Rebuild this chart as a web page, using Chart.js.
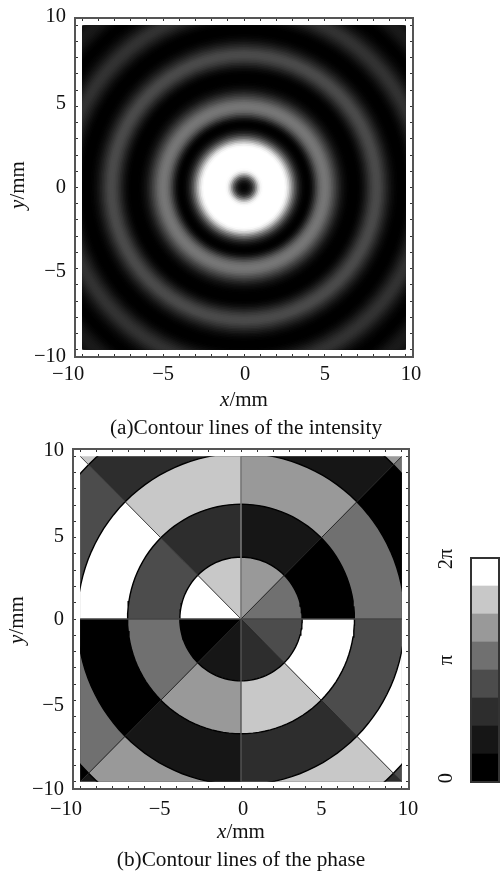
<!DOCTYPE html>
<html>
<head>
<meta charset="utf-8">
<title>Contour lines of the intensity and the phase</title>
<script src="https://cdn.jsdelivr.net/npm/chart.js@4"></script>
<style>
  html, body { margin: 0; padding: 0; background: #fff; }
  body { position: relative; width: 503px; height: 872px; overflow: hidden; }
  canvas { position: absolute; display: block; filter: blur(0.45px); }
</style>
</head>
<body>
<canvas id="intensityChart" width="503" height="440" style="left:0;top:0"></canvas>
<canvas id="phaseChart" width="420" height="432" style="left:0;top:440px"></canvas>
<canvas id="scaleChart" width="83" height="260" style="left:420px;top:540px"></canvas>
<script>
const tickValues = [-10, -9, -8, -7, -6, -5, -4, -3, -2, -1, 0, 1, 2, 3, 4, 5, 6, 7, 8, 9, 10];
const labelledTicks = [-10, -5, 0, 5, 10];
const tickLabels = ["\u221210", "\u22125", "0", "5", "10"];

// radial intensity profile: grey of each 0.1 mm band, from the centre out
const intensityBand = 0.1;
const intensityGrey = [
  5, 8, 14, 24, 40, 65, 100, 145, 190, 225,
  245, 253, 255, 255, 255, 255, 255, 255, 255, 255,
  255, 255, 255, 255, 255, 250, 235, 210, 178, 145,
  112, 85, 60, 40, 25, 14, 6, 2, 0, 1,
  5, 14, 28, 45, 64, 82, 98, 108, 115, 118,
  118, 114, 108, 98, 86, 74, 62, 50, 39, 29,
  20, 14, 9, 5, 2, 1, 0, 0, 0, 0,
  2, 5, 10, 16, 24, 33, 42, 52, 60, 67,
  72, 74, 74, 72, 66, 58, 50, 41, 33, 25,
  18, 12, 8, 4, 2, 0, 0, 0, 0, 1,
  3, 6, 10, 15, 21, 27, 33, 39, 44, 48,
  50, 50, 49, 45, 40, 34, 28, 22, 17, 12,
  8, 5, 3, 1, 0, 0, 1, 3, 6, 9,
  13, 17, 20, 23, 25, 26, 26, 25, 23, 20,
  16, 12,
];

// eight phase levels, 0 to 2 pi
const phaseGreys = ["#000000", "#161616", "#2d2d2d", "#4c4c4c", "#707070", "#999999", "#c8c8c8", "#ffffff"];
const scaleSteps = [1, 1, 1, 1, 1, 1, 1, 1];

// outer radius (mm) of each phase ring, and the level of each 45 degree sector, counter clockwise from +x
const phaseRadii = [3.8, 7.05, 10.18, 13.4, 15];
const ring1Levels = [4, 5, 6, 7, 0, 1, 2, 3];
const ring2Levels = [0, 1, 2, 3, 4, 5, 6, 7];
const ring3Levels = [4, 5, 6, 7, 0, 1, 2, 3];
const ring4Levels = [0, 1, 2, 3, 4, 5, 6, 7];
const ring5Levels = [4, 5, 6, 7, 0, 1, 2, 3];
const phaseLevels = [ring1Levels, ring2Levels, ring3Levels, ring4Levels, ring5Levels];

const spokeAngles = [0, 45, 90, 135, 180, 225, 270, 315];
const spokeColors = ["#444444", "#222222", "#777777", "#333333", "#444444", "#222222", "#555555", "#222222"];
const spokeWidths = [1.4, 0.9, 1.6, 0.9, 1.4, 0.9, 1.4, 0.9];

const SERIF = '"Liberation Serif", "Times New Roman", serif';
const FRAME_LIMIT = 10.44;

function hiddenLabelAxis(position, withTicks) {
  return {
    type: "linear",
    position: position,
    min: -FRAME_LIMIT,
    max: FRAME_LIMIT,
    border: { display: true, color: "#555555", width: 2 },
    grid: { drawOnChartArea: false, drawTicks: withTicks, tickLength: -3, tickColor: "#333333", tickWidth: 1 },
    ticks: { display: false, autoSkip: false },
    afterBuildTicks: (scale) => { scale.ticks = tickValues.map((v) => ({ value: v })); },
    afterFit: (scale) => {
      if (position === "top" || position === "bottom") scale.height = 0;
      else scale.width = 0;
    },
  };
}

function frameScales() {
  return {
    x: hiddenLabelAxis("bottom", true),
    x2: hiddenLabelAxis("top", true),
    y: hiddenLabelAxis("left", true),
    y2: hiddenLabelAxis("right", true),
  };
}

// the picture only fills -10..10, the frame sits a little further out
const clipToImage = {
  id: "clipToImage",
  beforeDatasetsDraw(chart) {
    const { x, y } = chart.scales;
    const ctx = chart.ctx;
    ctx.save();
    ctx.beginPath();
    ctx.rect(x.getPixelForValue(-10), y.getPixelForValue(10), x.getPixelForValue(10) - x.getPixelForValue(-10), y.getPixelForValue(-10) - y.getPixelForValue(10));
    ctx.clip();
  },
  afterDatasetsDraw(chart) {
    chart.ctx.restore();
  },
};

function italicTitle(ctx, italic, rest, cx, baseline) {
  ctx.textAlign = "left";
  ctx.textBaseline = "alphabetic";
  ctx.font = "italic 21px " + SERIF;
  const w1 = ctx.measureText(italic).width;
  ctx.font = "21px " + SERIF;
  const w2 = ctx.measureText(rest).width;
  const left = cx - (w1 + w2) / 2;
  ctx.font = "italic 21px " + SERIF;
  ctx.fillText(italic, left, baseline);
  ctx.font = "21px " + SERIF;
  ctx.fillText(rest, left + w1, baseline);
}

// tick labels are moved by hand in the original, so they get small nudges here
function frameText(opts) {
  return {
    id: "frameText",
    afterDraw(chart) {
      const { x, y } = chart.scales;
      const ctx = chart.ctx;
      ctx.save();
      ctx.fillStyle = "#111111";
      ctx.font = "20.5px " + SERIF;
      ctx.textBaseline = "alphabetic";
      ctx.textAlign = "center";
      labelledTicks.forEach((v, i) => {
        ctx.fillText(tickLabels[i], x.getPixelForValue(v) + opts.xNudge[i], opts.xLabelBase);
      });
      ctx.textAlign = "right";
      ctx.textBaseline = "middle";
      labelledTicks.forEach((v, i) => {
        ctx.fillText(tickLabels[i], opts.yLabelRight, y.getPixelForValue(v) + opts.yNudge[i]);
      });
      italicTitle(ctx, "x", "/mm", opts.xTitleX, opts.xTitleBase);
      ctx.save();
      ctx.translate(opts.yTitleBase, opts.yTitleY);
      ctx.rotate(-Math.PI / 2);
      italicTitle(ctx, "y", "/mm", 0, 0);
      ctx.restore();
      ctx.textAlign = "center";
      ctx.font = "21.3px " + SERIF;
      ctx.fillText(opts.caption, opts.captionX, opts.captionBase);
      ctx.restore();
    },
  };
}

function baseOptions(padding, scales) {
  return {
    responsive: false,
    animation: false,
    events: [],
    layout: { padding: padding },
    scales: scales,
    plugins: { legend: { display: false }, tooltip: { enabled: false } },
  };
}

// --- intensity: concentric discs, biggest painted first
const discOrder = intensityGrey.map((_, i) => intensityGrey.length - 1 - i);

new Chart(document.getElementById("intensityChart"), {
  type: "scatter",
  data: {
    datasets: [{
      label: "Intensity",
      data: discOrder.map(() => ({ x: 0, y: 0 })),
      pointRadius: (c) => {
        const sx = c.chart.scales.x;
        return sx.getPixelForValue((discOrder[c.dataIndex] + 1) * intensityBand) - sx.getPixelForValue(0);
      },
      pointBackgroundColor: (c) => {
        const g = intensityGrey[discOrder[c.dataIndex]];
        return `rgb(${g},${g},${g})`;
      },
      pointBorderWidth: 0,
      clip: false,
    }],
  },
  options: baseOptions({ left: 75, right: 90, top: 18, bottom: 83 }, frameScales()),
  plugins: [clipToImage, frameText({
    xNudge: [-14, 0, 1, 0, 5],
    yNudge: [7, 3, 0, -3, -9],
    xLabelBase: 380,
    yLabelRight: 66,
    xTitleX: 244,
    xTitleBase: 406,
    yTitleBase: 24,
    yTitleY: 185,
    caption: "(a)Contour lines of the intensity",
    captionX: 246,
    captionBase: 434,
  })],
});

// --- phase: wedges painted from the outer ring in, with ring and spoke lines on top
function wedgePoints(radius, sector) {
  const pts = [{ x: 0, y: 0 }];
  for (let deg = sector * 45; deg <= (sector + 1) * 45; deg += 3) {
    const a = deg * Math.PI / 180;
    pts.push({ x: radius * Math.cos(a), y: radius * Math.sin(a) });
  }
  pts.push({ x: 0, y: 0 });
  return pts;
}

function circlePoints(radius) {
  const pts = [];
  for (let deg = 0; deg <= 360; deg += 3) {
    const a = deg * Math.PI / 180;
    pts.push({ x: radius * Math.cos(a), y: radius * Math.sin(a) });
  }
  return pts;
}

const phaseDatasets = [];
// chart.js paints the first dataset last
spokeAngles.forEach((deg, i) => {
  const a = deg * Math.PI / 180;
  phaseDatasets.push({
    data: [{ x: 0, y: 0 }, { x: 15 * Math.cos(a), y: 15 * Math.sin(a) }],
    showLine: true, pointRadius: 0, borderColor: spokeColors[i], borderWidth: spokeWidths[i], fill: false, clip: false,
  });
});
phaseRadii.slice(0, 4).forEach((r) => {
  phaseDatasets.push({
    data: circlePoints(r),
    showLine: true, pointRadius: 0, borderColor: "#000000", borderWidth: 1.4, fill: false, clip: false,
  });
});
phaseRadii.forEach((r, ring) => {
  phaseLevels[ring].forEach((level, sector) => {
    phaseDatasets.push({
      data: wedgePoints(r, sector),
      showLine: true, pointRadius: 0, borderWidth: 0, borderColor: phaseGreys[level],
      backgroundColor: phaseGreys[level], fill: "shape", clip: false,
    });
  });
});

new Chart(document.getElementById("phaseChart"), {
  type: "scatter",
  data: { datasets: phaseDatasets },
  options: baseOptions({ left: 73, right: 11, top: 9, bottom: 83 }, frameScales()),
  plugins: [clipToImage, frameText({
    xNudge: [-14, -1, 2, 0, 6],
    yNudge: [8, 5, 1, -1, -6],
    xLabelBase: 375,
    yLabelRight: 64,
    xTitleX: 241,
    xTitleBase: 398,
    yTitleBase: 23,
    yTitleY: 180,
    caption: "(b)Contour lines of the phase",
    captionX: 241,
    captionBase: 426,
  })],
});

// --- phase scale: one stacked bar with eight steps
const scaleLabels = ["0", "\u03c0", "2\u03c0"];
const scaleLabelValues = [0, 4, 8];

new Chart(document.getElementById("scaleChart"), {
  type: "bar",
  data: {
    labels: ["phase"],
    datasets: scaleSteps.map((s, i) => ({
      label: "level " + i,
      data: [s],
      backgroundColor: phaseGreys[i],
      borderWidth: 0,
      barPercentage: 1,
      categoryPercentage: 1,
    })),
  },
  options: baseOptions({ left: 51, right: 4, top: 18, bottom: 18 }, {
    x: { stacked: true, display: false },
    y: { stacked: true, min: 0, max: 8, display: false },
  }),
  plugins: [{
    id: "scaleText",
    afterDraw(chart) {
      const ctx = chart.ctx;
      const { left, right, top, bottom } = chart.chartArea;
      ctx.save();
      ctx.strokeStyle = "#333333";
      ctx.lineWidth = 2;
      ctx.strokeRect(left, top, right - left, bottom - top);
      const nudges = [-4, -10, 1];
      ctx.fillStyle = "#111111";
      ctx.font = "20.5px " + SERIF;
      ctx.textAlign = "center";
      ctx.textBaseline = "alphabetic";
      scaleLabels.forEach((text, i) => {
        ctx.save();
        ctx.translate(32, chart.scales.y.getPixelForValue(scaleLabelValues[i]) + nudges[i]);
        ctx.rotate(-Math.PI / 2);
        ctx.fillText(text, 0, 0);
        ctx.restore();
      });
      ctx.restore();
    },
  }],
});
</script>
</body>
</html>
